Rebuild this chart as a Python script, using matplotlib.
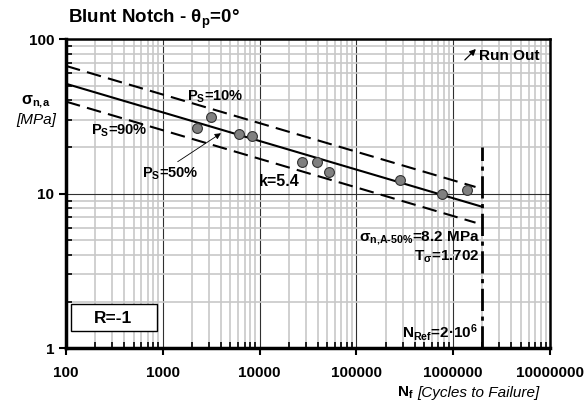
import numpy as np
import matplotlib
matplotlib.use('Agg')
import matplotlib.pyplot as plt
from matplotlib.ticker import LogLocator, FuncFormatter, NullFormatter
from matplotlib.patches import Rectangle

plt.rcParams['font.family'] = ['Liberation Sans', 'DejaVu Sans']
plt.rcParams['mathtext.fontset'] = 'custom'
plt.rcParams['mathtext.rm'] = 'Liberation Sans:bold'
plt.rcParams['mathtext.bf'] = 'Liberation Sans:bold'
plt.rcParams['mathtext.it'] = 'Liberation Sans:bold:italic'

# test results: cycles to failure and nominal stress amplitude
cycles = [2275, 3125, 6170, 8410, 27200, 38800, 52500, 282000, 766000, 1400000]
stress = [26.5, 31.1, 24.3, 23.6, 15.9, 16.1, 13.7, 12.2, 9.9, 10.6]

# fitted curve parameters
k = 5.4
sigma_a50 = 8.2
t_sigma = 1.702
n_ref = 2e6
n_start = 100
n_band_end = 1.7e6
runout_top = 20

n_line = np.logspace(np.log10(n_start), np.log10(n_ref), 200)
s50 = sigma_a50 * (n_ref / n_line) ** (1 / k)
n_band = np.logspace(np.log10(n_start), np.log10(n_band_end), 200)
s_band = sigma_a50 * (n_ref / n_band) ** (1 / k)
s10 = s_band * np.sqrt(t_sigma)
s90 = s_band / np.sqrt(t_sigma)

fig = plt.figure(figsize=(5.88, 4.05), dpi=100)
ax = fig.add_axes([0.1122, 0.1407, 0.8232, 0.7630])
ax.set_xscale('log')
ax.set_yscale('log')
ax.set_xlim(100, 1e7)
ax.set_ylim(1, 100)

ax.xaxis.set_minor_locator(LogLocator(base=10, subs=np.arange(2, 10)))
ax.yaxis.set_minor_locator(LogLocator(base=10, subs=np.arange(2, 10)))
ax.xaxis.set_minor_formatter(NullFormatter())
ax.yaxis.set_minor_formatter(NullFormatter())
ax.xaxis.set_major_formatter(FuncFormatter(lambda v, p: '%d' % round(v)))
ax.yaxis.set_major_formatter(FuncFormatter(lambda v, p: '%d' % round(v)))

ax.grid(which='minor', color='#c8c8c8', lw=1.2)
ax.grid(which='major', color='#303030', lw=0.8)
ax.set_axisbelow(True)

ax.tick_params(which='major', direction='out', length=5, width=1.5, labelsize=11)
ax.tick_params(which='minor', direction='in', length=4, width=1.2)
ax.tick_params(axis='x', which='major', pad=8)
for lab in ax.get_xticklabels() + ax.get_yticklabels():
    lab.set_fontweight('bold')

for side in ['left', 'bottom']:
    ax.spines[side].set_linewidth(2.5)
for side in ['top', 'right']:
    ax.spines[side].set_linewidth(1.8)

# curves
ax.plot(n_line, s50, color='black', lw=1.5)
ax.plot(n_band, s10, color='black', lw=1.5, dashes=(7, 3.5))
ax.plot(n_band, s90, color='black', lw=1.5, dashes=(7, 3.5))
ax.plot([n_ref, n_ref], [1, runout_top], color='black', lw=2, dashes=(8, 2, 1.5, 2))

ax.scatter(cycles, stress, s=50, facecolor='#808080', edgecolor='#333333', lw=0.8, zorder=5)

bold = dict(fontsize=10.5, fontweight='bold', transform=ax.transAxes)
ax.text(0.308, 0.812, r'P$_{\mathrm{S}}$=10%', ha='center', va='center', **bold)
ax.text(0.110, 0.702, r'P$_{\mathrm{S}}$=90%', ha='center', va='center', **bold)
ax.text(0.215, 0.563, r'P$_{\mathrm{S}}$=50%', ha='center', va='center', **bold)
ax.annotate('', xy=(0.325, 0.700), xytext=(0.226, 0.598), xycoords='axes fraction',
            arrowprops=dict(arrowstyle='-|>', color='black', lw=0.6, mutation_scale=9))
ax.text(0.441, 0.540, 'k=5.4', ha='center', va='center', fontsize=11.5, fontweight='bold',
        transform=ax.transAxes)

big = dict(bold, fontsize=11)
ax.text(0.855, 0.356, r'σ$_{\mathrm{n{,}A\text{-}50\%}}$=8.2 MPa', ha='right', va='center', **big)
ax.text(0.855, 0.294, r'T$_{\mathrm{σ}}$=1.702', ha='right', va='center', **big)
ax.text(0.851, 0.049, r'N$_{\mathrm{Ref}}$=2·10$^{\mathrm{6}}$', ha='right', va='center', **big)

# run-out legend
ax.text(0.853, 0.945, 'Run Out', ha='left', va='center', **big)
ax.annotate('', xy=(0.851, 0.974), xytext=(0.820, 0.926), xycoords='axes fraction',
            arrowprops=dict(arrowstyle='-|>', color='black', lw=0.9, mutation_scale=9))

# load ratio box
ax.add_patch(Rectangle((0.0103, 0.055), 0.1777, 0.087, transform=ax.transAxes,
                       facecolor='white', edgecolor='black', lw=1, zorder=6))
ax.text(0.097, 0.097, 'R=-1', ha='center', va='center', fontsize=12.5, fontweight='bold',
        transform=ax.transAxes, zorder=7)

fig.text(0.262, 0.951, r'Blunt Notch - θ$_{\mathrm{p}}$=0°', ha='center', va='center',
         fontsize=13.5, fontweight='bold')
fig.text(0.061, 0.748, r'σ$_{\mathrm{n{,}a}}$', ha='center', va='center', fontsize=11.5,
         fontweight='bold')
fig.text(0.061, 0.704, '[MPa]', ha='center', va='center', fontsize=11, style='italic')
fig.text(0.675, 0.030, r'N$_{\mathrm{f}}$', ha='left', va='center', fontsize=11,
         fontweight='bold')
fig.text(0.709, 0.030, '[Cycles to Failure]', ha='left', va='center', fontsize=11,
         style='italic')

fig.savefig('out.png', dpi=100)
